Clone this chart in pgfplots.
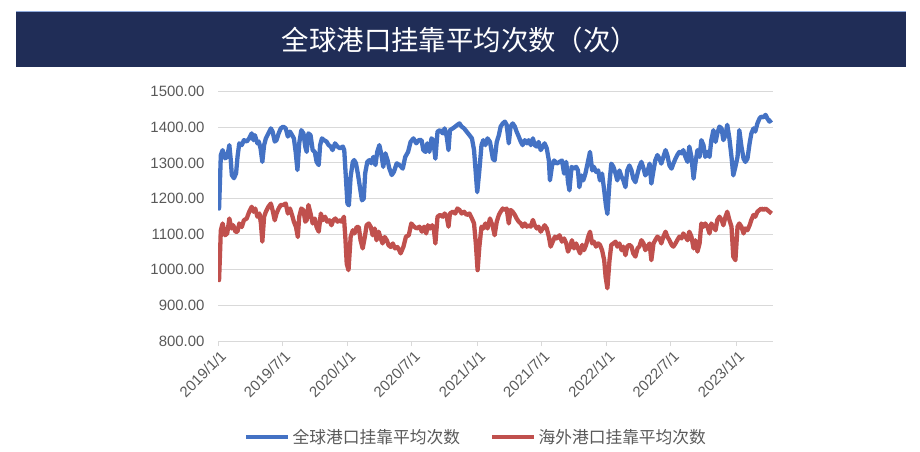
\documentclass[border=0pt]{standalone}
\usepackage{pgfplots}
\pgfplotsset{compat=1.18}
\usepackage{fontspec}
\setmainfont{Liberation Sans}
\newfontfamily\cjk{Noto Sans CJK SC}
\definecolor{navy}{RGB}{32,45,87}
\definecolor{sblue}{RGB}{68,114,196}
\definecolor{sred}{RGB}{192,80,77}
\definecolor{lbl}{RGB}{89,89,89}
\definecolor{grd}{RGB}{217,217,217}
\begin{document}
\begin{tikzpicture}
\path[use as bounding box] (0,0) rectangle (920bp,-452bp);
\fill[navy] (16bp,-11bp) rectangle (906bp,-67bp);
\draw[sblue!60, line width=0.8bp] (16bp,-11bp) -- (906bp,-11bp);
\node[text=white, font=\cjk\fontsize{27.5}{32}\selectfont] at (460bp,-40bp) {全球港口挂靠平均次数（次）};
\begin{axis}[
  at={(218bp,-341bp)}, anchor=south west,
  scale only axis, width=555bp, height=249.3bp,
  xmin=0, xmax=1565, ymin=800, ymax=1500,
  ytick={800,900,1000,1100,1200,1300,1400,1500},
  xtick={0,181,365,547,731,912,1096,1277,1461},
  xticklabels={2019/1/1,2019/7/1,2020/1/1,2020/7/1,2021/1/1,2021/7/1,2022/1/1,2022/7/1,2023/1/1},
  /pgf/number format/.cd, fixed, fixed zerofill, precision=2, 1000 sep={}, assume math mode=true,
  /pgfplots/.cd,
  axis x line=bottom, axis y line=left,
  y axis line style={draw=none}, x axis line style={draw=grd, line width=1bp, -},
  ytick style={draw=none},
  xtick style={draw=grd, line width=1bp},
  tick align=outside, major tick length=5bp,
  ymajorgrids, grid style={grd, line width=1bp},
  yticklabel style={font=\fontsize{15}{17}\selectfont, text=lbl, xshift=-5bp},
  xticklabel style={font=\fontsize{15}{17}\selectfont, text=lbl, rotate=45, anchor=north east, xshift=2bp},
  legend style={at={(0.465,-0.385)}, anchor=center, draw=none, fill=none,
    font=\cjk\fontsize{16.8}{19}\selectfont, text=lbl, legend columns=2,
    /tikz/every even column/.append style={column sep=28bp}},
  legend image code/.code={\draw[#1, line width=4.5bp] (0bp,0bp) -- (42bp,0bp);},
]
\addplot[sblue, line width=4.3bp, line join=round] coordinates {
(0,1205)(3,1172)(8,1322)(13,1336)(20,1313)(26,1317)(32,1350)(36,1308)(39,1266)(45,1257)
(51,1271)(55,1317)(60,1355)(67,1350)(73,1364)(81,1360)(88,1369)(95,1383)(100,1364)(104,1378)
(111,1355)(115,1360)(120,1341)(125,1303)(130,1350)(135,1369)(142,1383)(149,1397)(154,1388)(160,1360)
(165,1364)(171,1383)(177,1397)(184,1402)(191,1397)(197,1374)(203,1388)(209,1378)(214,1369)(219,1331)
(224,1280)(229,1355)(235,1392)(241,1383)(246,1346)(250,1331)(255,1383)(261,1378)(267,1336)(273,1331)
(278,1303)(284,1294)(288,1350)(293,1369)(299,1364)(306,1360)(312,1350)(318,1346)(323,1336)(330,1355)
(337,1346)(344,1341)(352,1346)(356,1336)(361,1252)(365,1186)(369,1181)(374,1261)(380,1303)(384,1308)
(389,1299)(395,1266)(400,1233)(406,1195)(411,1200)(415,1271)(421,1303)(427,1308)(432,1299)(438,1317)
(444,1294)(449,1331)(455,1350)(461,1322)(466,1289)(472,1327)(478,1308)(483,1285)(490,1266)(496,1275)
(504,1299)(513,1293)(521,1284)(528,1317)(536,1331)(543,1359)(551,1369)(559,1355)(566,1364)(574,1364)
(579,1336)(585,1331)(590,1355)(596,1331)(602,1369)(607,1364)(613,1312)(619,1388)(626,1392)(634,1383)
(639,1397)(645,1374)(650,1336)(654,1392)(662,1397)(669,1402)(675,1407)(681,1411)(687,1402)(694,1397)
(701,1388)(709,1378)(716,1369)(722,1336)(727,1270)(731,1218)(737,1279)(743,1350)(748,1364)(754,1350)
(760,1369)(767,1359)(775,1312)(780,1307)(786,1359)(792,1378)(797,1402)(803,1411)(809,1416)(814,1407)
(820,1355)(825,1402)(831,1411)(837,1402)(842,1388)(848,1374)(854,1359)(859,1350)(865,1364)(871,1355)
(876,1364)(882,1350)(888,1369)(893,1350)(899,1346)(904,1359)(910,1336)(916,1346)(921,1355)(927,1341)
(933,1307)(936,1251)(942,1293)(948,1307)(955,1298)(963,1303)(970,1307)(976,1270)(982,1303)(987,1246)
(991,1223)(997,1289)(1002,1284)(1010,1289)(1015,1279)(1019,1232)(1025,1265)(1030,1251)(1036,1270)(1042,1298)
(1049,1331)(1055,1279)(1060,1289)(1066,1275)(1072,1279)(1077,1251)(1083,1270)(1089,1223)(1094,1180)(1098,1157)
(1104,1246)(1109,1298)(1115,1289)(1121,1270)(1126,1251)(1132,1279)(1138,1261)(1143,1251)(1149,1232)(1154,1279)
(1160,1293)(1166,1279)(1171,1256)(1177,1246)(1183,1270)(1188,1289)(1194,1303)(1200,1284)(1205,1265)(1211,1275)
(1217,1298)(1222,1242)(1228,1279)(1233,1307)(1239,1322)(1245,1312)(1250,1298)(1256,1317)(1262,1336)(1267,1322)
(1273,1293)(1279,1284)(1284,1298)(1290,1312)(1295,1322)(1301,1331)(1307,1327)(1312,1336)(1318,1317)(1324,1303)
(1329,1346)(1335,1317)(1341,1256)(1346,1298)(1352,1336)(1358,1317)(1363,1364)(1369,1350)(1374,1317)(1380,1331)
(1386,1317)(1391,1364)(1397,1392)(1403,1359)(1408,1383)(1414,1402)(1420,1397)(1425,1364)(1431,1378)(1436,1407)
(1442,1369)(1448,1317)(1453,1265)(1459,1289)(1465,1317)(1470,1392)(1476,1346)(1482,1312)(1487,1303)(1493,1312)
(1499,1355)(1504,1383)(1510,1397)(1515,1388)(1521,1411)(1527,1425)(1532,1430)(1538,1428)(1544,1435)(1549,1425)
(1555,1416)(1561,1421)
};
\addlegendentry{全球港口挂靠平均次数}
\addplot[sred, line width=4.3bp, line join=round] coordinates {
(0,1008)(3,971)(8,1111)(13,1130)(20,1097)(26,1102)(32,1144)(38,1116)(43,1125)(49,1107)
(55,1107)(60,1130)(67,1120)(73,1139)(81,1144)(88,1163)(95,1177)(100,1163)(105,1172)(111,1149)
(117,1158)(121,1130)(125,1079)(130,1149)(135,1163)(142,1177)(149,1186)(154,1167)(160,1139)(165,1158)
(171,1172)(177,1182)(184,1182)(191,1186)(197,1158)(203,1172)(209,1153)(214,1135)(220,1120)(225,1092)
(229,1149)(235,1172)(241,1167)(246,1135)(250,1139)(255,1182)(261,1158)(267,1130)(273,1144)(278,1120)
(284,1107)(290,1158)(295,1139)(302,1149)(308,1135)(314,1139)(320,1125)(325,1139)(331,1144)(337,1135)
(342,1139)(349,1135)(355,1149)(359,1092)(363,1017)(368,999)(374,1092)(380,1111)(385,1102)(391,1120)
(397,1120)(402,1083)(408,1060)(414,1092)(419,1125)(425,1130)(431,1120)(436,1097)(442,1116)(447,1083)
(453,1107)(459,1088)(464,1074)(470,1092)(476,1083)(481,1069)(487,1064)(493,1074)(499,1060)(506,1064)
(511,1055)(515,1046)(523,1065)(530,1093)(538,1097)(545,1130)(553,1121)(560,1116)(568,1121)(575,1107)
(581,1121)(587,1102)(592,1125)(598,1116)(604,1125)(609,1111)(613,1074)(619,1149)(626,1154)(634,1149)
(639,1158)(645,1149)(650,1121)(654,1158)(662,1163)(669,1158)(675,1172)(681,1168)(687,1158)(694,1163)
(701,1154)(709,1158)(716,1144)(722,1130)(727,1074)(732,999)(737,1065)(743,1121)(748,1116)(754,1130)
(760,1116)(767,1144)(775,1121)(780,1097)(786,1135)(792,1154)(797,1163)(803,1172)(809,1168)(814,1172)
(820,1130)(825,1168)(831,1163)(837,1154)(842,1144)(848,1135)(854,1130)(859,1121)(865,1130)(871,1121)
(876,1125)(882,1121)(888,1140)(893,1125)(899,1116)(904,1121)(910,1107)(916,1116)(921,1125)(927,1116)
(933,1093)(938,1065)(944,1079)(950,1093)(955,1088)(963,1097)(970,1079)(976,1088)(982,1074)(987,1051)
(993,1065)(998,1083)(1004,1060)(1010,1074)(1015,1060)(1021,1046)(1027,1070)(1032,1055)(1038,1070)(1044,1093)
(1049,1107)(1055,1074)(1060,1079)(1066,1065)(1072,1074)(1077,1070)(1083,1055)(1089,1027)(1093,980)(1098,948)
(1104,1027)(1109,1070)(1115,1074)(1121,1079)(1126,1065)(1132,1074)(1138,1055)(1143,1065)(1149,1041)(1154,1065)
(1160,1070)(1166,1065)(1171,1046)(1177,1037)(1183,1060)(1188,1065)(1194,1083)(1200,1074)(1205,1055)(1211,1065)
(1217,1074)(1222,1027)(1228,1074)(1233,1083)(1239,1093)(1245,1088)(1250,1074)(1256,1093)(1262,1107)(1267,1093)
(1273,1083)(1279,1070)(1284,1065)(1290,1074)(1295,1083)(1301,1093)(1307,1088)(1312,1102)(1318,1093)(1324,1083)
(1329,1107)(1335,1093)(1341,1060)(1346,1083)(1352,1051)(1358,1074)(1363,1130)(1369,1121)(1374,1130)(1380,1121)
(1386,1102)(1391,1130)(1397,1121)(1403,1111)(1408,1140)(1414,1149)(1420,1140)(1425,1125)(1431,1149)(1436,1163)
(1442,1140)(1448,1121)(1453,1037)(1459,1027)(1465,1121)(1470,1130)(1476,1121)(1482,1102)(1487,1116)(1493,1111)
(1499,1125)(1504,1140)(1510,1154)(1515,1149)(1521,1163)(1527,1168)(1532,1172)(1538,1168)(1544,1172)(1549,1168)
(1555,1163)(1561,1158)
};
\addlegendentry{海外港口挂靠平均次数}
\end{axis}
\end{tikzpicture}
\end{document}
